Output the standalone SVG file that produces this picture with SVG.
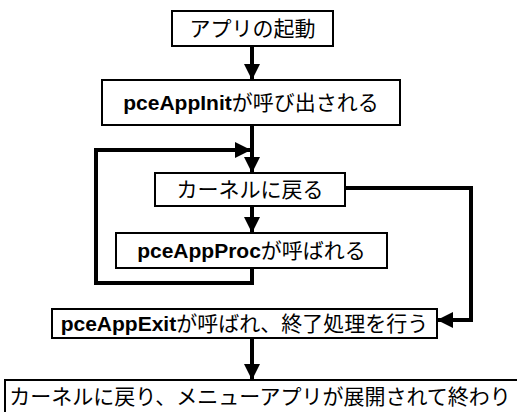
<svg xmlns="http://www.w3.org/2000/svg" width="517" height="412" viewBox="0 0 517 412">
<style>
.box{fill:#fff;stroke:#000;stroke-width:2}
.t{font-family:"Liberation Sans","Noto Sans CJK JP",sans-serif;font-size:21px;fill:#000;text-anchor:middle}
.b{font-weight:bold}
.c{fill:none;stroke:#000;stroke-width:4;stroke-linejoin:miter}
</style>
<defs>
<marker id="ah" markerUnits="userSpaceOnUse" markerWidth="16" markerHeight="16" viewBox="0 0 16 16" refX="16" refY="8" orient="auto">
<path d="M0 0 L16 8 L0 16 Z" fill="#000"/>
</marker>
</defs>
<rect width="517" height="412" fill="#fff"/>
<g id="connectors">
<path class="c" d="M252 46 V80" marker-end="url(#ah)"/>
<path class="c" d="M252 125 V173" marker-end="url(#ah)"/>
<path class="c" d="M252 268 V283 H96 V150 H251" marker-end="url(#ah)"/>
<path class="c" d="M252 206 V233" marker-end="url(#ah)"/>
<path class="c" d="M345 188 H471 V320 H437" marker-end="url(#ah)"/>
<path class="c" d="M252 338 V380" marker-end="url(#ah)"/>
</g>
<g id="n1"><rect class="box" x="172" y="11" width="161" height="35"/><text class="t" x="252.5" y="36">アプリの起動</text></g>
<g id="n2"><rect class="box" x="102" y="80" width="298" height="45"/><text class="t" x="251" y="110"><tspan class="b">pceAppInit</tspan>が呼び出される</text></g>
<g id="n3"><rect class="box" x="155" y="173" width="190" height="33"/><text class="t" x="250" y="197">カーネルに戻る</text></g>
<g id="n4"><rect class="box" x="116" y="233" width="271" height="35"/><text class="t" x="251.5" y="258"><tspan class="b">pceAppProc</tspan>が呼ばれる</text></g>
<g id="n5"><rect class="box" x="52" y="309" width="385" height="29"/><text class="t" x="244.5" y="331"><tspan class="b">pceAppExit</tspan>が呼ばれ、終了処理を行う</text></g>
<g id="n6"><rect class="box" x="5" y="380" width="520" height="40"/><text class="t" x="260" y="404">カーネルに戻り、メニューアプリが展開されて終わり</text></g>
</svg>
